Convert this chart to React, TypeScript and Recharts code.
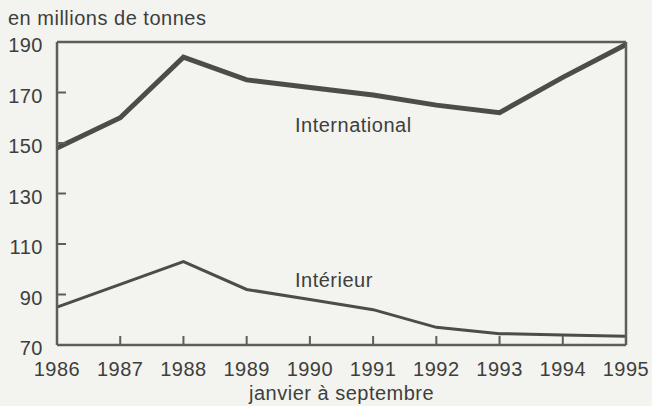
import React from 'react';
import { LineChart, Line, XAxis, YAxis, ReferenceLine } from 'recharts';

const years = [1986, 1987, 1988, 1989, 1990, 1991, 1992, 1993, 1994, 1995];
const international = [148, 160, 184, 175, 172, 169, 165, 162, 176, 189];
const interieur = [85, 94, 103, 92, 88, 84, 77, 74.5, 74, 73.5];
const yTicks = [70, 90, 110, 130, 150, 170, 190];

const data = years.map((year, i) => ({
  year,
  international: international[i],
  interieur: interieur[i],
}));

const ink = '#4a4e47';
const axisColor = '#5c5f58';
const textColor = '#3e3e3c';
const bg = '#f3f3ef';
const font = '"Liberation Sans", Arial, sans-serif';

const XTick = (props: any) => {
  const { x, y, payload } = props;
  const edge = payload.value === years[0] || payload.value === years[years.length - 1];
  return (
    <g>
      {!edge && <line x1={x} x2={x} y1={y} y2={y - 9} stroke={axisColor} strokeWidth={2} />}
      <text x={x} y={y + 31} textAnchor="middle" fill={textColor} fontSize={20} fontFamily={font} letterSpacing={0.5}>
        {payload.value}
      </text>
    </g>
  );
};

const YTickLeft = (props: any) => {
  const { x, y, payload } = props;
  const edge = payload.value === 70 || payload.value === 190;
  return (
    <g>
      {!edge && <line x1={x} x2={x + 9} y1={y} y2={y} stroke={axisColor} strokeWidth={2} />}
      <text x={x - 14} y={y + 10} textAnchor="end" fill={textColor} fontSize={20} fontFamily={font} letterSpacing={0.5}>
        {payload.value}
      </text>
    </g>
  );
};

const YTickRight = (props: any) => {
  const { x, y, payload } = props;
  const edge = payload.value === 70 || payload.value === 190;
  if (edge) return <g />;
  return <line x1={x} x2={x - 9} y1={y} y2={y} stroke={axisColor} strokeWidth={2} />;
};

const textStyle: React.CSSProperties = {
  position: 'absolute',
  fontFamily: font,
  fontSize: 20,
  lineHeight: '20px',
  letterSpacing: 0.5,
  color: textColor,
  whiteSpace: 'nowrap',
};

export default function App() {
  return (
    <div style={{ position: 'absolute', left: 0, top: 0, width: 652, height: 406, background: bg, overflow: 'hidden' }}>
      <LineChart width={652} height={406} data={data} margin={{ top: 42, right: 25, bottom: 60, left: 0 }}>
        <XAxis
          dataKey="year"
          type="number"
          domain={[1986, 1995]}
          ticks={years}
          height={1}
          tickSize={0}
          tickMargin={0}
          tickLine={false}
          axisLine={{ stroke: axisColor, strokeWidth: 2.5 }}
          tick={<XTick />}
          interval={0}
        />
        <YAxis
          domain={[70, 190]}
          ticks={yTicks}
          width={57}
          tickSize={0}
          tickMargin={0}
          tickLine={false}
          axisLine={{ stroke: axisColor, strokeWidth: 2.5 }}
          tick={<YTickLeft />}
          interval={0}
        />
        <YAxis
          yAxisId="right"
          orientation="right"
          domain={[70, 190]}
          ticks={yTicks}
          width={1}
          tickSize={0}
          tickMargin={0}
          tickLine={false}
          axisLine={{ stroke: axisColor, strokeWidth: 2.5 }}
          tick={<YTickRight />}
          interval={0}
        />
        <ReferenceLine y={190} stroke={axisColor} strokeWidth={2.5} />
        <Line
          type="linear"
          dataKey="international"
          stroke={ink}
          strokeWidth={5}
          dot={false}
          isAnimationActive={false}
        />
        <Line
          type="linear"
          dataKey="interieur"
          stroke={ink}
          strokeWidth={3}
          dot={false}
          isAnimationActive={false}
        />
      </LineChart>
      <div style={{ ...textStyle, left: 8, top: 8 }}>en millions de tonnes</div>
      <div style={{ ...textStyle, left: 295, top: 115 }}>International</div>
      <div style={{ ...textStyle, left: 295, top: 270 }}>Intérieur</div>
      <div style={{ ...textStyle, left: 249, top: 383 }}>janvier à septembre</div>
    </div>
  );
}
